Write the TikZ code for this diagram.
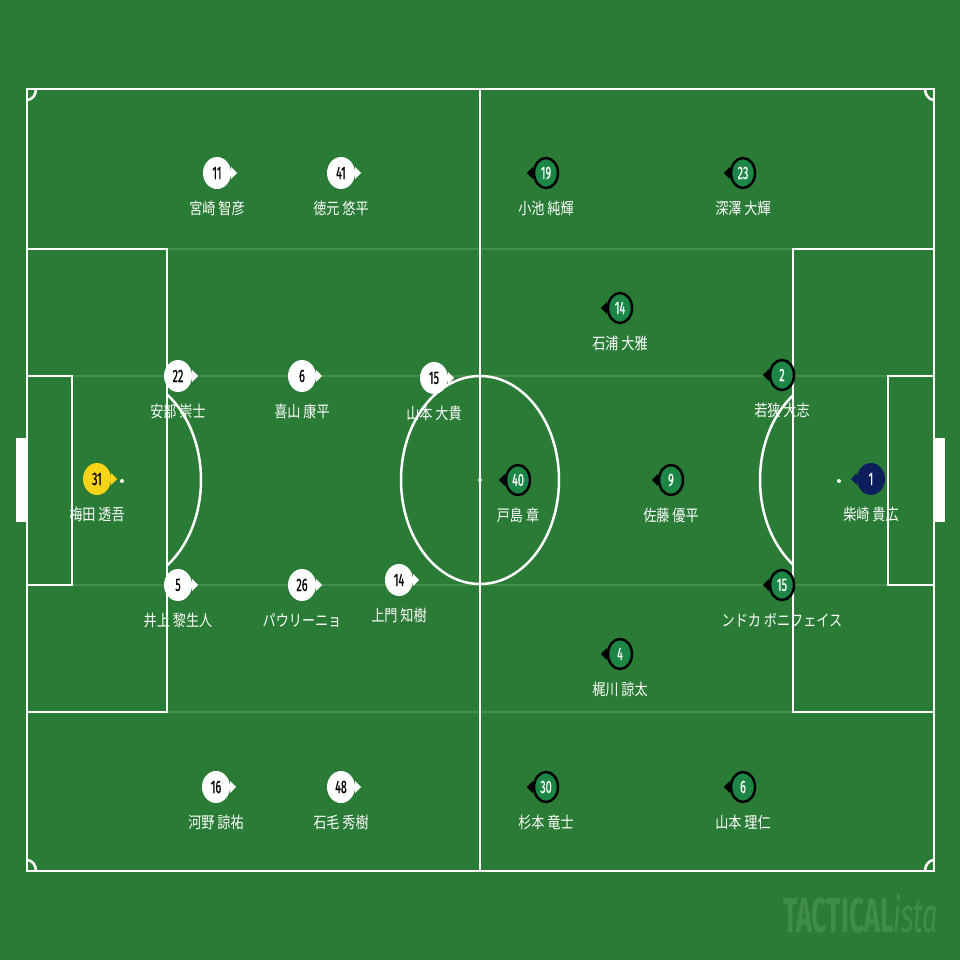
\documentclass[tikz,border=0pt]{standalone}
\usepackage{fontspec}
\usetikzlibrary{shapes.geometric}
\newfontfamily\jpf[FakeStretch=0.82]{Noto Sans CJK JP}
\newfontfamily\numf[FakeStretch=0.6,FakeBold=0.6]{Fira Sans}
\newfontfamily\wmf[FakeStretch=0.545]{Fira Sans}
\definecolor{pitch}{RGB}{42,123,54}
\definecolor{tgreen}{RGB}{28,134,70}
\definecolor{gkyellow}{RGB}{247,212,23}
\definecolor{gknavy}{RGB}{12,30,92}
\definecolor{wmcol}{RGB}{66,140,74}
\newcommand\plR[7]{%
  \node[#6] (#1) at (#2,#3) {#4};
  \fill[#7] ([yshift=6pt]#1.east) -- ([xshift=6pt]#1.east) -- ([yshift=-6pt]#1.east) -- cycle;
  \node[namelbl] (#1n) at (#2,#3+35) {#5};}
\newcommand\plL[7]{%
  \node[#6] (#1) at (#2,#3) {#4};
  \fill[#7] ([yshift=6pt]#1.west) -- ([xshift=-6pt]#1.west) -- ([yshift=-6pt]#1.west) -- cycle;
  \node[namelbl] (#1n) at (#2,#3+35) {#5};}
\begin{document}
\begin{tikzpicture}[x=1pt,y=-1pt,
  pline/.style={white, line width=2.5pt},
  faint/.style={white, opacity=0.13, line width=2pt},
  numfont/.style={font=\numf\fontsize{18pt}{18pt}\selectfont},
  wmk/.style={ellipse, fill=white, minimum width=28pt, minimum height=32pt, inner sep=0pt, text=black, numfont},
  gmk/.style={ellipse, fill=tgreen, draw=black, line width=2.5pt, minimum width=24pt, minimum height=30pt, inner sep=0pt, text=white, numfont},
  ymk/.style={ellipse, fill=gkyellow, minimum width=28pt, minimum height=32pt, inner sep=0pt, text=black, numfont},
  nmk/.style={ellipse, fill=gknavy, minimum width=28pt, minimum height=32pt, inner sep=0pt, text=white, numfont},
  namelbl/.style={text=white, font=\jpf\fontsize{16pt}{16pt}\selectfont, inner sep=0pt}]
\useasboundingbox (0,0) rectangle (960,960);
\fill[pitch] (0,0) rectangle (960,960);
% faint stripe lines
\foreach \yy in {249,376,585,712} \draw[faint] (27,\yy) -- (934,\yy);
% pitch
\draw[pline] (27,89) rectangle (934,871);
\draw[pline] (480,89) -- (480,871);
\draw[pline] (27,249) rectangle (167,712);
\draw[pline] (934,249) rectangle (793,712);
\draw[pline] (27,376) rectangle (72,585);
\draw[pline] (934,376) rectangle (888,585);
\fill[white] (16,438) rectangle (27,522);
\fill[white] (934,438) rectangle (945,522);
\draw[pline] (480,480) ellipse [x radius=79pt, y radius=104pt];
\fill[white] (480,480) circle [radius=2pt];
\fill[white] (122,481) circle [radius=2pt];
\fill[white] (839,481) circle [radius=2pt];
\begin{scope}
  \clip (167,89) rectangle (480,871);
  \draw[pline] (122,480) ellipse [x radius=79pt, y radius=104pt];
\end{scope}
\begin{scope}
  \clip (480,89) rectangle (793,871);
  \draw[pline] (839,480) ellipse [x radius=79pt, y radius=104pt];
\end{scope}
\begin{scope}
  \clip (27,89) rectangle (934,871);
  \draw[pline] (27,89) ellipse [x radius=9pt, y radius=11pt];
  \draw[pline] (934,89) ellipse [x radius=9pt, y radius=11pt];
  \draw[pline] (27,871) ellipse [x radius=9pt, y radius=11pt];
  \draw[pline] (934,871) ellipse [x radius=9pt, y radius=11pt];
\end{scope}
% white team
\plR{w11}{217}{173}{11}{宮崎 智彦}{wmk}{white}
\plR{w41}{341}{173}{41}{徳元 悠平}{wmk}{white}
\plR{w22}{178}{376}{22}{安部 崇士}{wmk}{white}
\plR{w6}{302}{376}{6}{喜山 康平}{wmk}{white}
\plR{w15}{434}{378}{15}{山本 大貴}{wmk}{white}
\plR{w31}{97}{479}{31}{梅田 透吾}{ymk}{gkyellow}
\plR{w5}{178}{585}{5}{井上 黎生人}{wmk}{white}
\plR{w26}{302}{585}{26}{パウリーニョ}{wmk}{white}
\plR{w14}{399}{580}{14}{上門 知樹}{wmk}{white}
\plR{w16}{216}{787}{16}{河野 諒祐}{wmk}{white}
\plR{w48}{341}{787}{48}{石毛 秀樹}{wmk}{white}
% green team
\plL{g19}{546}{173}{19}{小池 純輝}{gmk}{black}
\plL{g23}{743}{173}{23}{深澤 大輝}{gmk}{black}
\plL{g14}{620}{308}{14}{石浦 大雅}{gmk}{black}
\plL{g2}{782}{375}{2}{若狭 大志}{gmk}{black}
\plL{g40}{518}{480}{40}{戸島 章}{gmk}{black}
\plL{g9}{671}{480}{9}{佐藤 優平}{gmk}{black}
\plL{g1}{871}{479}{1}{柴崎 貴広}{nmk}{gknavy}
\plL{g15}{782}{585}{15}{ンドカ ボニフェイス}{gmk}{black}
\plL{g4}{620}{654}{4}{梶川 諒太}{gmk}{black}
\plL{g30}{546}{787}{30}{杉本 竜士}{gmk}{black}
\plL{g6}{743}{787}{6}{山本 理仁}{gmk}{black}
% watermark
\node[anchor=base west, text=wmcol, inner sep=0pt] (wm) at (783,932) {\wmf\fontsize{49pt}{49pt}\selectfont\bfseries TACTICAL\mdseries\itshape ista};
\end{tikzpicture}
\end{document}
